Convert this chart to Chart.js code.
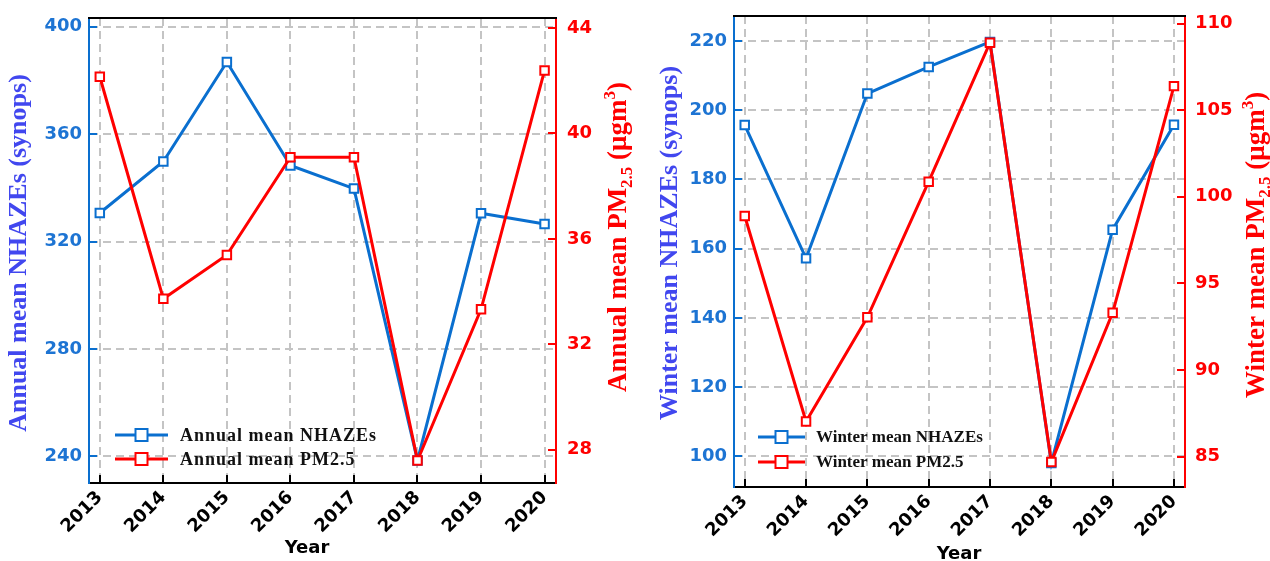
<!DOCTYPE html>
<html><head><meta charset="utf-8">
<script src="https://cdn.jsdelivr.net/npm/chart.js@4.4.1/dist/chart.umd.min.js"></script>
<style>
html,body{margin:0;padding:0;background:#fff;}
#wrap{position:relative;width:1270px;height:561px;overflow:hidden;background:#fff;}
canvas{position:absolute;top:0;}
</style></head><body>
<div id="wrap">
<canvas id="c1" width="640" height="561" style="left:0px"></canvas>
<canvas id="c2" width="630" height="561" style="left:640px"></canvas>
</div>
<script>
// ---- data ----
const years = [2013, 2014, 2015, 2016, 2017, 2018, 2019, 2020];
const annualNhazes = [330.6, 349.8, 386.8, 348.3, 339.7, 238.5, 330.5, 326.5];
const annualPm25   = [42.15, 33.73, 35.39, 39.1, 39.1, 27.59, 33.33, 42.39];
const winterNhazes = [195.7, 157.2, 204.8, 212.5, 219.7, 98.1, 165.5, 195.8];
const winterPm25   = [98.89, 87.02, 93.04, 100.87, 108.9, 84.68, 93.3, 106.39];
const annualNhazeTicks = [240, 280, 320, 360, 400];
const annualPmTicks    = [28, 32, 36, 40, 44];
const winterNhazeTicks = [100, 120, 140, 160, 180, 200, 220];
const winterPmTicks    = [85, 90, 95, 100, 105, 110];
const labelsLeft  = ['Annual mean NHAZEs', 'Annual mean PM2.5'];
const labelsRight = ['Winter mean NHAZEs', 'Winter mean PM2.5'];

// ---- styles ----
const BLUE_LINE = '#0a6fcf';
const BLUE_TICK = '#1d74d3';
const BLUE_TITLE = '#4147ef';
const RED = '#ff0000';
const GRID = '#c4c4c4';
const TICK_FONT = {family: 'DejaVu Sans', weight: 'bold', size: 18};

function drawRich(ctx, t) {
  ctx.save();
  ctx.translate(t.x, t.y);
  ctx.rotate(t.rot || 0);
  ctx.fillStyle = t.color;
  ctx.textBaseline = 'alphabetic';
  ctx.textAlign = 'left';
  const fontFor = p => `${t.weight} ${(p.sub || p.sup) ? Math.round(t.size * 0.62) : t.size}px ${t.family}`;
  const widths = t.parts.map(p => { ctx.font = fontFor(p); return ctx.measureText(p.t).width; });
  const total = widths.reduce((a, b) => a + b, 0);
  let x = -total / 2;
  t.parts.forEach((p, i) => {
    ctx.font = fontFor(p);
    const dy = p.sub ? t.size * 0.22 : (p.sup ? -t.size * 0.40 : 0);
    ctx.fillText(p.t, x, dy);
    x += widths[i];
  });
  ctx.restore();
}

function drawLegend(chart, L) {
  const ctx = chart.ctx;
  chart.data.datasets.forEach((ds, i) => {
    const y = L.y + i * L.dy;
    ctx.save();
    ctx.strokeStyle = ds.borderColor;
    ctx.lineWidth = L.lineWidth;
    ctx.beginPath(); ctx.moveTo(L.x, y); ctx.lineTo(L.x + L.len, y); ctx.stroke();
    const cx = L.x + L.len / 2, s = L.box;
    ctx.fillStyle = '#fff';
    ctx.fillRect(cx - s / 2, y - s / 2, s, s);
    ctx.lineWidth = 2;
    ctx.strokeRect(cx - s / 2, y - s / 2, s, s);
    ctx.fillStyle = '#111';
    ctx.font = L.font;
    ctx.textBaseline = 'middle';
    ctx.textAlign = 'left';
    if ('letterSpacing' in ctx) ctx.letterSpacing = L.spacing + 'px';
    ctx.fillText(ds.label, L.textX, y + 1);
    ctx.restore();
  });
}

const decoPlugin = {
  id: 'deco',
  beforeDatasetsDraw(chart) {
    const {ctx, chartArea: a} = chart;
    ctx.save();
    ctx.strokeStyle = '#000';
    ctx.lineWidth = 2;
    ctx.beginPath();
    ctx.moveTo(a.left - 1, Math.round(a.top));
    ctx.lineTo(a.right + 1, Math.round(a.top));
    ctx.stroke();
    ctx.restore();
  },
  afterDraw(chart, args, opts) {
    (opts.titles || []).forEach(t => drawRich(chart.ctx, t));
    if (opts.legend) drawLegend(chart, opts.legend);
  }
};

function makeChart(id, cfg) {
  const canvas = document.getElementById(id);
  const W = canvas.width, H = canvas.height;
  const pts = arr => years.map((x, i) => ({x: x, y: arr[i]}));
  return new Chart(canvas, {
    type: 'line',
    data: {
      datasets: [
        {label: cfg.labels[0], data: pts(cfg.blue), yAxisID: 'y', order: 2,
         borderColor: BLUE_LINE, borderWidth: 3, pointStyle: 'rect', pointRadius: 6,
         pointBorderWidth: 2, pointBackgroundColor: '#fff', pointBorderColor: BLUE_LINE, tension: 0},
        {label: cfg.labels[1], data: pts(cfg.red), yAxisID: 'y2', order: 1,
         borderColor: RED, borderWidth: 3, pointStyle: 'rect', pointRadius: 6,
         pointBorderWidth: 2, pointBackgroundColor: '#fff', pointBorderColor: RED, tension: 0}
      ]
    },
    options: {
      responsive: false, animation: false, devicePixelRatio: 1,
      layout: {padding: {top: cfg.top, left: 0, right: 0, bottom: 0}},
      plugins: {
        legend: {display: false}, tooltip: {enabled: false},
        deco: {titles: cfg.titles, legend: cfg.legend}
      },
      scales: {
        x: {
          type: 'linear', position: 'bottom', min: cfg.xmin, max: cfg.xmax,
          afterBuildTicks: s => { s.ticks = years.map(v => ({value: v})); },
          afterFit: s => { s.height = H - cfg.bottom; s.paddingLeft = 0; s.paddingRight = 0; },
          ticks: {color: '#000', font: TICK_FONT, minRotation: 45, maxRotation: 45, autoSkip: false,
                  padding: cfg.xPad, callback: v => String(v)},
          grid: {color: GRID, lineWidth: 2, tickLength: -8, tickColor: '#000', tickWidth: 2},
          border: {color: '#000', width: 2, dash: [8, 5]}
        },
        y: {
          type: 'linear', position: 'left', min: cfg.ymin, max: cfg.ymax,
          afterBuildTicks: s => { s.ticks = cfg.blueTicks.map(v => ({value: v})); },
          afterFit: s => { s.width = cfg.left; s.paddingTop = 0; s.paddingBottom = 0; },
          ticks: {color: BLUE_TICK, font: TICK_FONT, padding: 15},
          grid: {color: GRID, lineWidth: 2, tickLength: -8, tickColor: BLUE_LINE, tickWidth: 2},
          border: {color: BLUE_LINE, width: 2, dash: [8, 5]}
        },
        y2: {
          type: 'linear', position: 'right', min: cfg.y2min, max: cfg.y2max,
          afterBuildTicks: s => { s.ticks = cfg.redTicks.map(v => ({value: v})); },
          afterFit: s => { s.width = W - cfg.right; s.paddingTop = 0; s.paddingBottom = 0; },
          ticks: {color: RED, font: TICK_FONT, padding: cfg.y2Pad},
          grid: {drawOnChartArea: false, color: RED, lineWidth: 2, tickLength: -8, tickColor: RED, tickWidth: 2},
          border: {color: RED, width: 2}
        }
      }
    },
    plugins: [decoPlugin]
  });
}

const serif = '"Liberation Serif", "Times New Roman", serif';
const sans = '"DejaVu Sans", sans-serif';
const R90 = -Math.PI / 2;

makeChart('c1', {
  labels: labelsLeft, blue: annualNhazes, red: annualPm25,
  blueTicks: annualNhazeTicks, redTicks: annualPmTicks,
  left: 89, right: 556, top: 18, bottom: 483,
  xmin: 2012.83, xmax: 2020.18, ymin: 230.1, ymax: 403.2, y2min: 26.74, y2max: 44.38,
  xPad: 12, y2Pad: 19,
  titles: [
    {parts: [{t: 'Annual mean NHAZEs (synops)'}], x: 25.5, y: 253, rot: R90, size: 26, weight: 'bold', family: serif, color: BLUE_TITLE},
    {parts: [{t: 'Annual mean PM'}, {t: '2.5', sub: true}, {t: ' (\u03bcgm'}, {t: '3', sup: true}, {t: ')'}],
     x: 626, y: 237, rot: R90, size: 27, weight: 'bold', family: serif, color: RED},
    {parts: [{t: 'Year'}], x: 307, y: 553, rot: 0, size: 18, weight: 'bold', family: sans, color: '#000'}
  ],
  legend: {x: 115, len: 53, y: 435, dy: 24, textX: 180, box: 12, lineWidth: 3,
           font: 'bold 18px ' + serif, spacing: 1}
});

makeChart('c2', {
  labels: labelsRight, blue: winterNhazes, red: winterPm25,
  blueTicks: winterNhazeTicks, redTicks: winterPmTicks,
  left: 94, right: 545, top: 16, bottom: 487,
  xmin: 2012.825, xmax: 2020.18, ymin: 91.17, ymax: 227.2, y2min: 83.24, y2max: 110.44,
  xPad: 12, y2Pad: 18,
  titles: [
    {parts: [{t: 'Winter mean NHAZEs (synops)'}], x: 36.5, y: 243, rot: R90, size: 26, weight: 'bold', family: serif, color: BLUE_TITLE},
    {parts: [{t: 'Winter mean PM'}, {t: '2.5', sub: true}, {t: ' (\u03bcgm'}, {t: '3', sup: true}, {t: ')'}],
     x: 624, y: 245, rot: R90, size: 27, weight: 'bold', family: serif, color: RED},
    {parts: [{t: 'Year'}], x: 319, y: 559, rot: 0, size: 18, weight: 'bold', family: sans, color: '#000'}
  ],
  legend: {x: 118, len: 47, y: 437, dy: 25, textX: 176, box: 12, lineWidth: 3,
           font: 'bold 17px ' + serif, spacing: 0}
});
</script>
</body></html>
